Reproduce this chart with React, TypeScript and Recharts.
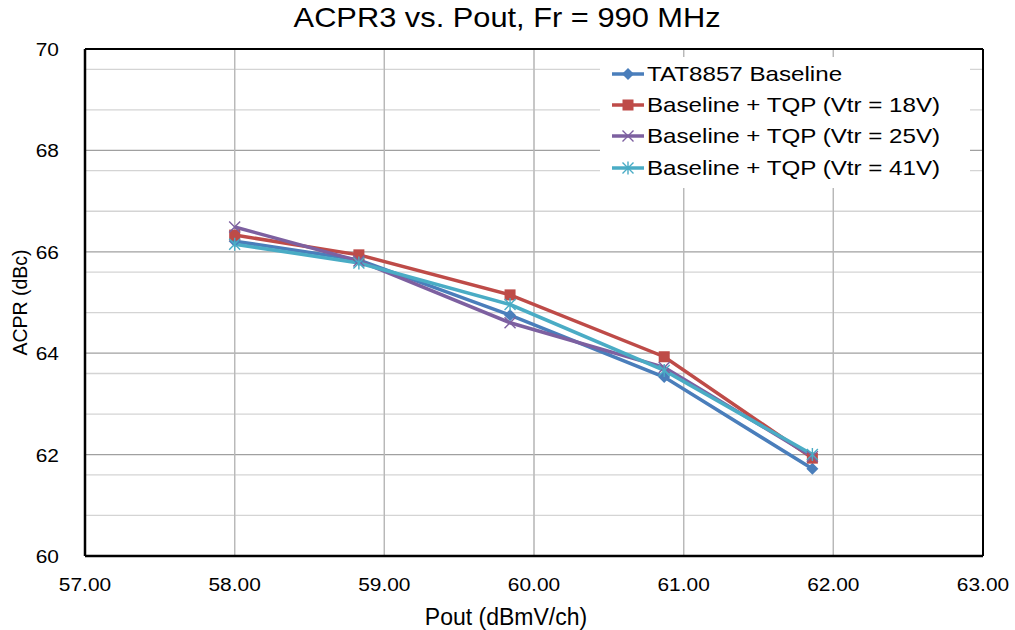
import React from 'react';
import {
  LineChart,
  Line,
  XAxis,
  YAxis,
  CartesianGrid,
  ReferenceLine,
} from 'recharts';

// Pout (dBmV/ch) for each measured point
const pout = [58.0, 58.83, 59.84, 60.87, 61.86];

// ACPR3 (dBc) per configuration
const tat8857 = [66.21, 65.84, 64.75, 63.53, 61.72];
const tqp18 = [66.33, 65.94, 65.15, 63.93, 61.93];
const tqp25 = [66.49, 65.82, 64.6, 63.72, 61.96];
const tqp41 = [66.15, 65.78, 64.96, 63.66, 62.0];

const xTicks = [57, 58, 59, 60, 61, 62, 63];
const yTicks = [60, 62, 64, 66, 68, 70];
const yMinor = [
  60.4, 60.8, 61.2, 61.6, 62.4, 62.8, 63.2, 63.6, 64.4, 64.8, 65.2, 65.6,
  66.4, 66.8, 67.2, 67.6, 68.4, 68.8, 69.2, 69.6,
];

const data = pout.map((x, i) => ({
  x,
  tat: tat8857[i],
  t18: tqp18[i],
  t25: tqp25[i],
  t41: tqp41[i],
}));

const FONT = '"Liberation Sans", Arial, sans-serif';

type Marker = 'diamond' | 'square' | 'x' | 'star';

const series: { key: string; name: string; color: string; marker: Marker }[] = [
  { key: 'tat', name: 'TAT8857 Baseline', color: '#4a7ebb', marker: 'diamond' },
  { key: 't18', name: 'Baseline + TQP (Vtr = 18V)', color: '#be4b48', marker: 'square' },
  { key: 't25', name: 'Baseline + TQP (Vtr = 25V)', color: '#7d60a0', marker: 'x' },
  { key: 't41', name: 'Baseline + TQP (Vtr = 41V)', color: '#4aacc5', marker: 'star' },
];

function MarkerShape({ cx, cy, color, marker }: { cx: number; cy: number; color: string; marker: Marker }) {
  if (cx == null || cy == null) return null;
  if (marker === 'diamond') {
    const r = 6;
    return <path d={`M${cx},${cy - r}L${cx + r},${cy}L${cx},${cy + r}L${cx - r},${cy}Z`} fill={color} />;
  }
  if (marker === 'square') {
    const r = 5.5;
    return <rect x={cx - r} y={cy - r} width={2 * r} height={2 * r} fill={color} />;
  }
  if (marker === 'x') {
    const r = 5.5;
    return (
      <path
        d={`M${cx - r},${cy - r}L${cx + r},${cy + r}M${cx - r},${cy + r}L${cx + r},${cy - r}`}
        stroke={color}
        strokeWidth={1.4}
      />
    );
  }
  const r = 5.5;
  return (
    <path
      d={`M${cx - r},${cy - r}L${cx + r},${cy + r}M${cx - r},${cy + r}L${cx + r},${cy - r}M${cx},${cy - r - 1}L${cx},${cy + r + 1}`}
      stroke={color}
      strokeWidth={1.4}
    />
  );
}

function XTick({ x, y, payload }: any) {
  return (
    <text x={x} y={y + 27} textAnchor="middle" fontFamily={FONT} fontSize={19} fill="#000"
      transform={`translate(${x},0) scale(1.1,1) translate(${-x},0)`}>
      {Number(payload.value).toFixed(2)}
    </text>
  );
}

function YTick({ x, y, payload }: any) {
  const right = x - 18;
  return (
    <text x={right} y={y + 7} textAnchor="end" fontFamily={FONT} fontSize={19} fill="#000"
      transform={`translate(${right},0) scale(1.1,1) translate(${-right},0)`}>
      {payload.value}
    </text>
  );
}

function LegendBox() {
  return (
    <div
      style={{
        position: 'absolute',
        left: 600,
        top: 57,
        width: 370,
        background: '#fff',
        padding: '1px 0 5px 11px',
        fontFamily: FONT,
        fontSize: 21,
        color: '#000',
        boxSizing: 'border-box',
      }}
    >
      {series.map((s) => (
        <div key={s.key} style={{ display: 'flex', alignItems: 'center', height: 31.3 }}>
          <svg width={34} height={14} style={{ marginRight: 2, flex: 'none' }}>
            <line x1={1} y1={7} x2={33} y2={7} stroke={s.color} strokeWidth={3.5} />
            <MarkerShape cx={17} cy={7} color={s.color} marker={s.marker} />
          </svg>
          <span
            style={{
              display: 'inline-block',
              transform: 'scaleX(1.15)',
              transformOrigin: 'left center',
              whiteSpace: 'nowrap',
            }}
          >
            {s.name}
          </span>
        </div>
      ))}
    </div>
  );
}

export default function App() {
  return (
    <div style={{ position: 'absolute', left: 0, top: 0, width: 1015, height: 630, background: '#fff' }}>
      <LineChart
        width={1015}
        height={630}
        data={data}
        margin={{ top: 49, right: 32, bottom: 0, left: 0 }}
      >
        <CartesianGrid horizontalValues={yMinor} verticalValues={xTicks} stroke="#d4d4d4" strokeWidth={1.3} />
        {yTicks.map((v) => (
          <ReferenceLine key={v} y={v} stroke="#a0a0a0" strokeWidth={1.3} />
        ))}
        {xTicks.map((v) => (
          <ReferenceLine key={'x' + v} x={v} stroke="#b8b8b8" strokeWidth={1.3} />
        ))}
        <ReferenceLine y={70} stroke="#000" strokeWidth={2} />
        <ReferenceLine x={63} stroke="#000" strokeWidth={2} />
        <XAxis
          dataKey="x"
          type="number"
          domain={[57, 63]}
          ticks={xTicks}
          tickLine={false}
          axisLine={{ stroke: '#000', strokeWidth: 2.5 }}
          tick={<XTick />}
          height={74}
          label={{
            value: 'Pout (dBmV/ch)',
            position: 'insideBottom',
            offset: 5,
            dx: -28,
            fill: '#000',
            fontFamily: FONT,
            fontSize: 23,
          }}
        />
        <YAxis
          type="number"
          domain={[60, 70]}
          ticks={yTicks}
          tickLine={false}
          axisLine={{ stroke: '#000', strokeWidth: 2.5 }}
          tick={<YTick />}
          width={85}
          label={{
            value: 'ACPR (dBc)',
            angle: -90,
            position: 'insideLeft',
            offset: 20,
            fill: '#000',
            fontFamily: FONT,
            fontSize: 19.5,
            style: { textAnchor: 'middle' },
          }}
        />
        {series.map((s) => (
          <Line
            key={s.key}
            dataKey={s.key}
            name={s.name}
            stroke={s.color}
            strokeWidth={3.5}
            isAnimationActive={false}
            dot={(p: any) => (
              <MarkerShape key={s.key + p.index} cx={p.cx} cy={p.cy} color={s.color} marker={s.marker} />
            )}
            activeDot={false}
          />
        ))}
      </LineChart>
      <div
        style={{
          position: 'absolute',
          top: 2,
          left: 0,
          width: 1015,
          textAlign: 'center',
          fontFamily: FONT,
          fontSize: 28,
          color: '#000',
        }}
      >
        <span style={{ display: 'inline-block', transform: 'scaleX(1.1)' }}>ACPR3 vs. Pout, Fr = 990 MHz</span>
      </div>
      <LegendBox />
    </div>
  );
}
